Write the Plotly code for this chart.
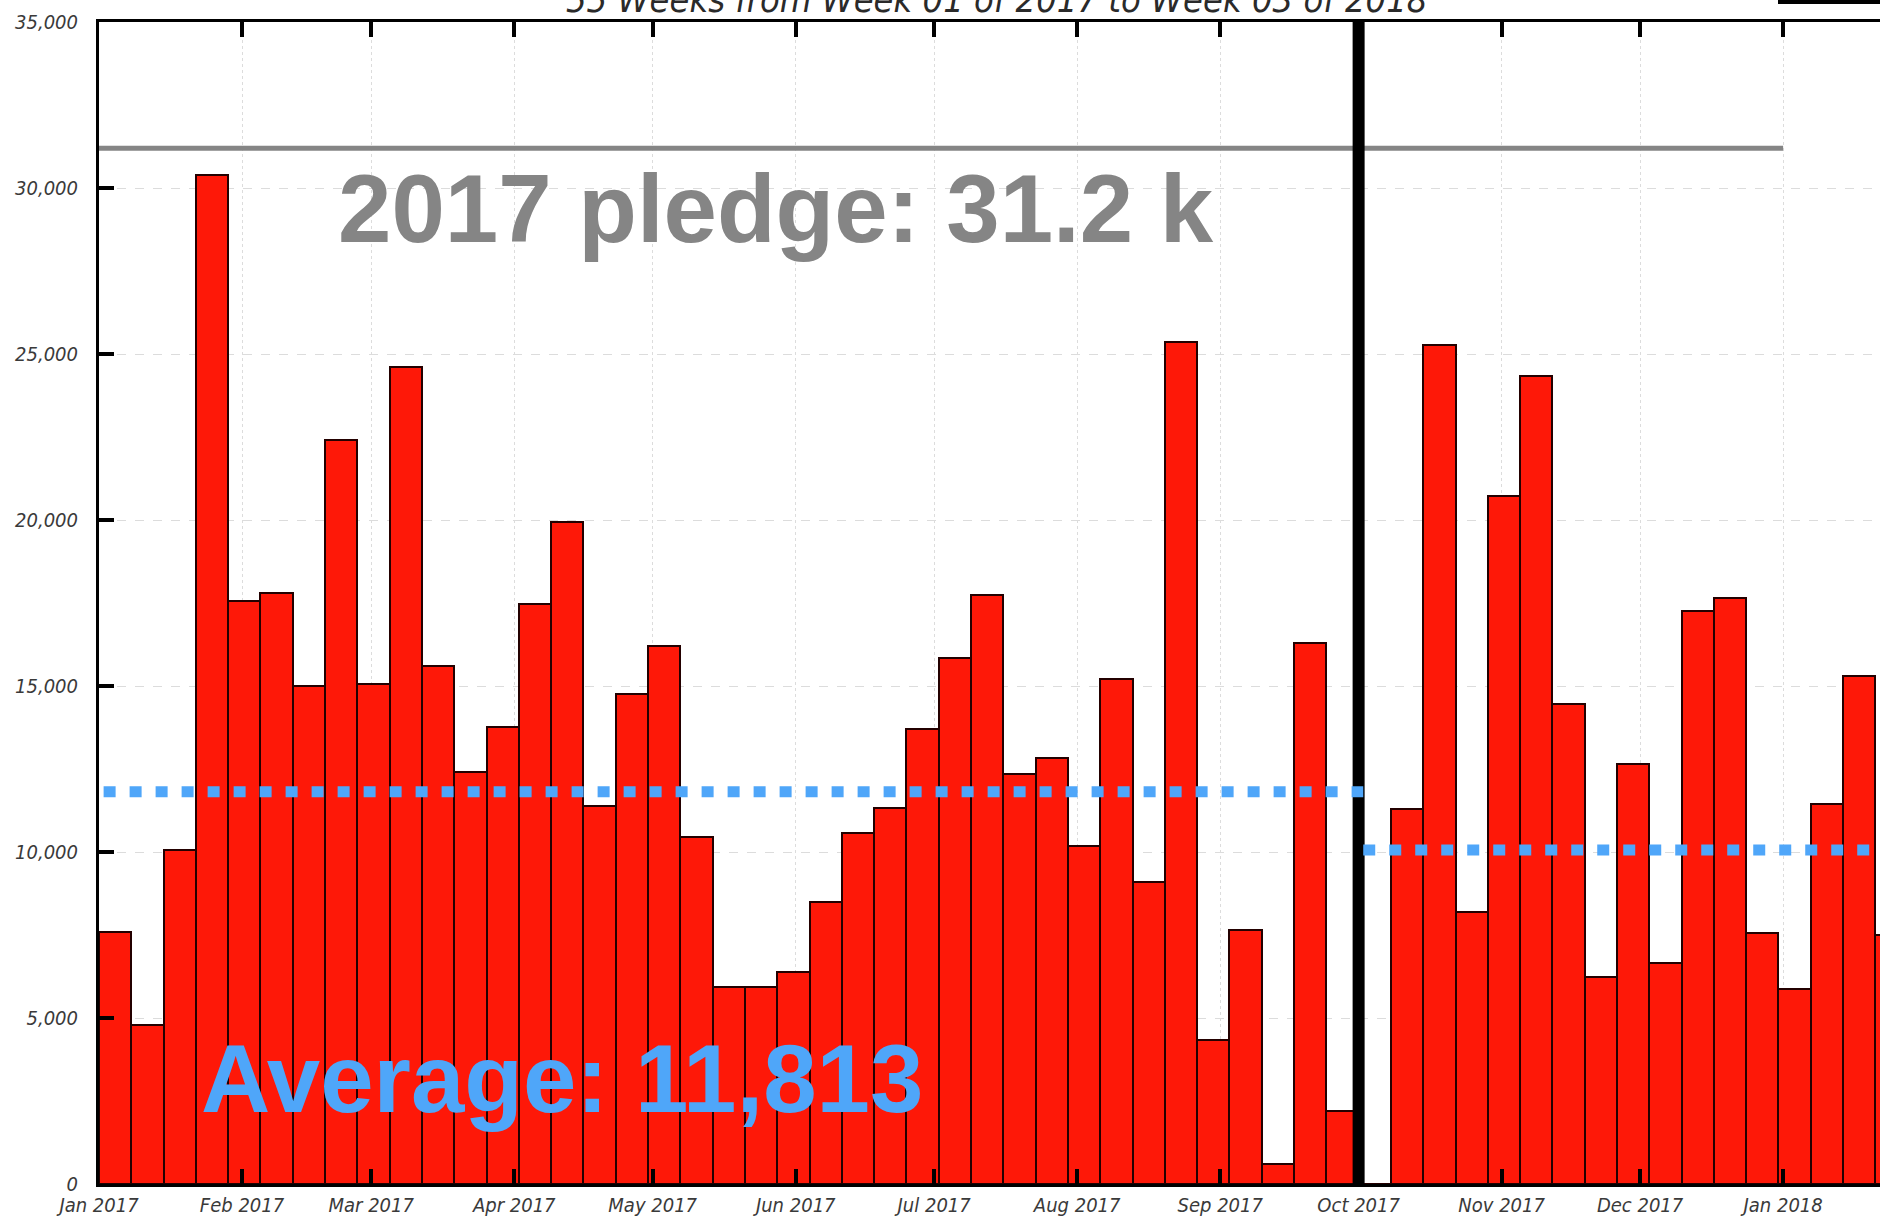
import pandas as pd
import plotly.graph_objects as go

# ---- data -------------------------------------------------------------
week_starts = pd.date_range("2017-01-01", periods=56, freq="7D")

weekly_totals = [
    7600, 4800, 10050, 30400, 17550, 17800, 15000, 22400, 15050, 24600,
    15600, 12420, 13760, 17480, 19950, 11380, 14770, 16220, 10440, 5920,
    5920, 6400, 8490, 10580, 11340, 13690, 15850, 17730, 12350, 12820,
    10180, 15200, 9100, 25350, 4330, 7660, 610, 16290, 2200, 0,
    11300, 25280, 8180, 20730, 24340, 14450, 6250, 12640, 6645, 17250,
    17640, 7570, 5870, 11450, 15310, 7490,
]

avg_2017 = 11813
avg_recent = 10060
pledge_2017 = 31200

period_split = "2017-10-01"
avg_2017_span = ["2017-01-02", "2017-10-02"]
avg_recent_span = ["2017-10-02", "2018-01-22"]
pledge_span = ["2017-01-01", "2018-01-01"]

y_ticks = [0, 5000, 10000, 15000, 20000, 25000, 30000, 35000]
title_text = "55 Weeks from Week 01 of 2017 to Week 03 of 2018"

# ---- geometry / style -------------------------------------------------
W, H = 1880, 1219
M_L, M_R, M_T, M_B = 99, 0, 22, 35
PLOT_W = W - M_L - M_R
PLOT_H = H - M_T - M_B

WEEK_MS = 7 * 24 * 3600 * 1000
bar_centers = week_starts + pd.Timedelta(hours=84)

TICK_FONT = dict(family="DejaVu Sans Condensed, DejaVu Sans", size=20,
                 color="#3a3a3a", style="italic")
RED = "#FE1808"
BLUE = "#4FA6F9"
GREY = "#858585"


def px_x(px):
    return (px - M_L) / PLOT_W


def px_y(py):
    return (H - M_B - py) / PLOT_H


fig = go.Figure()

fig.add_trace(go.Bar(
    x=bar_centers, y=weekly_totals,
    width=[WEEK_MS] * len(weekly_totals),
    marker=dict(color=RED, line=dict(color="#230000", width=2)),
    hoverinfo="x+y",
))

# pledge level for 2017
fig.add_trace(go.Scatter(
    x=pledge_span, y=[pledge_2017, pledge_2017], mode="lines",
    line=dict(color=GREY, width=5), hoverinfo="skip",
))

# divider at the start of October
fig.add_trace(go.Scatter(
    x=[period_split, period_split], y=[0, y_ticks[-1]], mode="lines",
    line=dict(color="black", width=12), hoverinfo="skip",
))

# average levels
fig.add_trace(go.Scatter(
    x=avg_2017_span, y=[avg_2017, avg_2017], mode="lines",
    line=dict(color=BLUE, width=11, dash="12px,14px"), hoverinfo="skip",
))
fig.add_trace(go.Scatter(
    x=avg_recent_span, y=[avg_recent, avg_recent], mode="lines",
    line=dict(color=BLUE, width=11, dash="12px,14px"), hoverinfo="skip",
))

fig.add_annotation(
    text=f"{pledge_2017 / 1000:.1f}".join(["2017 pledge: ", " k"]),
    xref="paper", yref="paper", x=px_x(336), y=px_y(208),
    xanchor="left", yanchor="middle", showarrow=False,
    font=dict(family="Liberation Sans, Arial", size=96, color=GREY,
              weight="bold"),
)
fig.add_annotation(
    text=f"Average: {avg_2017:,}",
    xref="paper", yref="paper", x=px_x(199), y=px_y(1078),
    xanchor="left", yanchor="middle", showarrow=False,
    font=dict(family="Liberation Sans, Arial", size=96, color=BLUE,
              weight="bold"),
)
fig.add_annotation(
    text=title_text,
    xref="paper", yref="paper", x=px_x(996), y=1.0,
    xanchor="center", yanchor="bottom", showarrow=False,
    font=dict(family="DejaVu Sans Condensed, DejaVu Sans", size=36,
              color="#2a2a2a", style="italic"),
)

# small dark bar at the top-right corner
fig.add_shape(
    type="rect", xref="paper", yref="paper",
    x0=px_x(1778), x1=px_x(1885), y0=px_y(4), y1=px_y(-2),
    fillcolor="black", line=dict(width=0),
)

fig.update_layout(
    width=W, height=H,
    margin=dict(l=M_L, r=M_R, t=M_T, b=M_B),
    paper_bgcolor="white", plot_bgcolor="white",
    showlegend=False, bargap=0,
    xaxis=dict(
        type="date", range=["2017-01-01", "2018-01-22"],
        tick0="2017-01-01", dtick="M1", tickformat="%b %Y",
        ticks="inside", ticklen=15, tickwidth=4, tickcolor="black",
        showline=True, linewidth=3, linecolor="black", mirror="ticks",
        showgrid=True, gridcolor="#dcdcdc", gridwidth=1, griddash="dot",
        tickfont=TICK_FONT, ticklabelstandoff=1, automargin=False,
        zeroline=False,
    ),
    yaxis=dict(
        range=[0, y_ticks[-1]], tickvals=y_ticks, tickformat=",d",
        ticks="inside", ticklen=15, tickwidth=4, tickcolor="black",
        showline=True, linewidth=3, linecolor="black",
        showgrid=True, gridcolor="#dcdcdc", gridwidth=1, griddash="dash",
        tickfont=TICK_FONT, ticklabelstandoff=14, automargin=False,
        zeroline=False,
    ),
)

fig.write_html("out.html")
